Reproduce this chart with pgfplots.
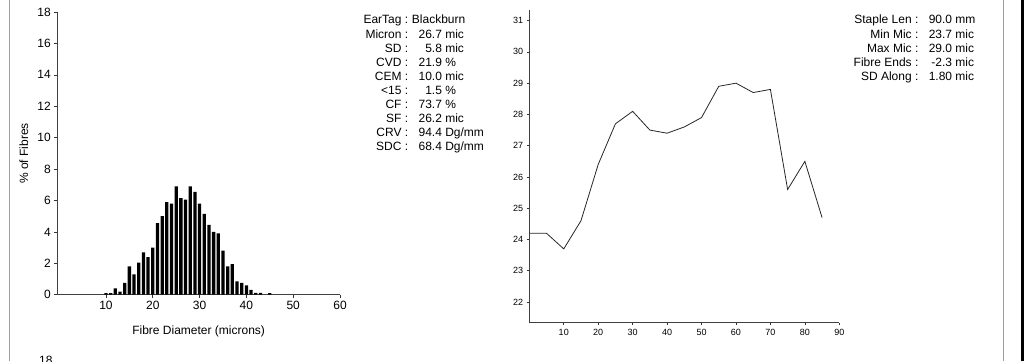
\documentclass[border=0pt]{standalone}
\usepackage{fontspec}
\setmainfont{Liberation Sans}
\usepackage{pgfplots}
\pgfplotsset{compat=1.18}
\newcommand\stat[5]{%
  \node[anchor=base east,inner sep=0pt,font=\fontsize{12}{14}\selectfont] at (#1pt,#2pt) {#3\ :};
  \node[anchor=base west,inner sep=0pt,font=\fontsize{12}{14}\selectfont] at (#1pt,#2pt) {\ \makebox[30pt][r]{#4}\ #5};}
\begin{document}
\begin{tikzpicture}
\useasboundingbox (0pt,0pt) rectangle (1024pt,361pt);
\clip (0pt,0pt) rectangle (1024pt,361pt);
\draw[gray!75, line width=1pt] (9.3pt,0pt) -- (9.3pt,361pt);
\draw[gray!75, line width=1pt] (1003.3pt,0pt) -- (1003.3pt,361pt);
\draw[black, line width=2.5pt] (1022.6pt,0pt) -- (1022.6pt,361pt);
\coordinate (hist) at (57.3pt,66.3pt);
\coordinate (line) at (529.3pt,38.3pt);

\begin{axis}[
  at={(hist)}, anchor=south west,
  scale only axis, width=282.7pt, height=282.7pt,
  xmin=-0.4, xmax=60, ymin=0, ymax=18,
  axis x line*=bottom, axis y line*=left,
  xtick={10,20,...,60}, ytick={0,2,...,18},
  tick align=outside, major tick length=3pt,
  tick style={black!80, line width=0.6pt},
  axis line style={black!75, line width=0.8pt},
  ticklabel style={font=\fontsize{12}{14}\selectfont},
  /pgf/number format/assume math mode=true,
  xlabel={Fibre Diameter (microns)},
  ylabel={\% of Fibres},
  label style={font=\fontsize{12}{14}\selectfont},
  xlabel style={at={(axis description cs:0.5,-0.131)}, anchor=center},
  ylabel style={at={(axis description cs:-0.118,0.5)}, anchor=center},
]
\addplot[ybar, bar width=0.7, bar shift=0pt, fill=black, draw=none] coordinates {
(10,0.1)(11,0.1)(12,0.4)(13,0.2)(14,0.75)(15,1.8)(16,1.3)(17,2.05)(18,2.7)(19,2.4)
(20,3.0)(21,4.55)(22,5.0)(23,5.9)(24,5.8)(25,6.9)(26,6.15)(27,6.05)(28,6.9)(29,6.55)
(30,5.8)(31,5.15)(32,4.45)(33,4.0)(34,3.9)(35,2.8)(36,1.8)(37,1.95)(38,0.85)(39,0.75)
(40,0.6)(41,0.3)(42,0.12)(43,0.12)(45,0.1)};
\end{axis}

\begin{axis}[
  at={(line)}, anchor=south west,
  scale only axis, width=310pt, height=312.7pt,
  xmin=0, xmax=90, ymin=21.34, ymax=31.34,
  axis x line*=bottom, axis y line*=left,
  xtick={10,20,...,90}, ytick={22,23,...,31},
  tick align=outside, major tick length=2.7pt,
  tick style={black!80, line width=0.6pt},
  axis line style={black!75, line width=0.8pt},
  ticklabel style={font=\fontsize{9}{11}\selectfont},
  /pgf/number format/assume math mode=true,
]
\addplot[black!85, line width=0.8pt] coordinates {
(0,24.2)(5,24.2)(10,23.7)(15,24.6)(20,26.4)(25,27.7)(30,28.1)(35,27.5)(40,27.4)
(45,27.6)(50,27.9)(55,28.9)(60,29.0)(65,28.7)(70,28.8)(75,25.6)(80,26.5)(85,24.7)};
\end{axis}

\node[anchor=base west,inner sep=0pt,font=\fontsize{12}{14}\selectfont] at (408.4pt,337pt) {\ Blackburn};
\node[anchor=base east,inner sep=0pt,font=\fontsize{12}{14}\selectfont] at (408.4pt,337pt) {EarTag\ :};
\stat{408.4}{322.9}{Micron}{26.7}{mic}
\stat{408.4}{308.8}{SD}{5.8}{mic}
\stat{408.4}{294.7}{CVD}{21.9}{\%}
\stat{408.4}{280.6}{CEM}{10.0}{mic}
\stat{408.4}{266.5}{<15}{1.5}{\%}
\stat{408.4}{252.4}{CF}{73.7}{\%}
\stat{408.4}{238.3}{SF}{26.2}{mic}
\stat{408.4}{224.2}{CRV}{94.4}{Dg/mm}
\stat{408.4}{210.1}{SDC}{68.4}{Dg/mm}

\stat{918.6}{337}{Staple Len}{90.0}{mm}
\stat{918.6}{322.9}{Min Mic}{23.7}{mic}
\stat{918.6}{308.8}{Max Mic}{29.0}{mic}
\stat{918.6}{294.7}{Fibre Ends}{-2.3}{mic}
\stat{918.6}{280.6}{SD Along}{1.80}{mic}

\node[anchor=north east,inner sep=0pt,font=\fontsize{12}{14}\selectfont] at (52.7pt,5pt) {18};
\end{tikzpicture}
\end{document}
